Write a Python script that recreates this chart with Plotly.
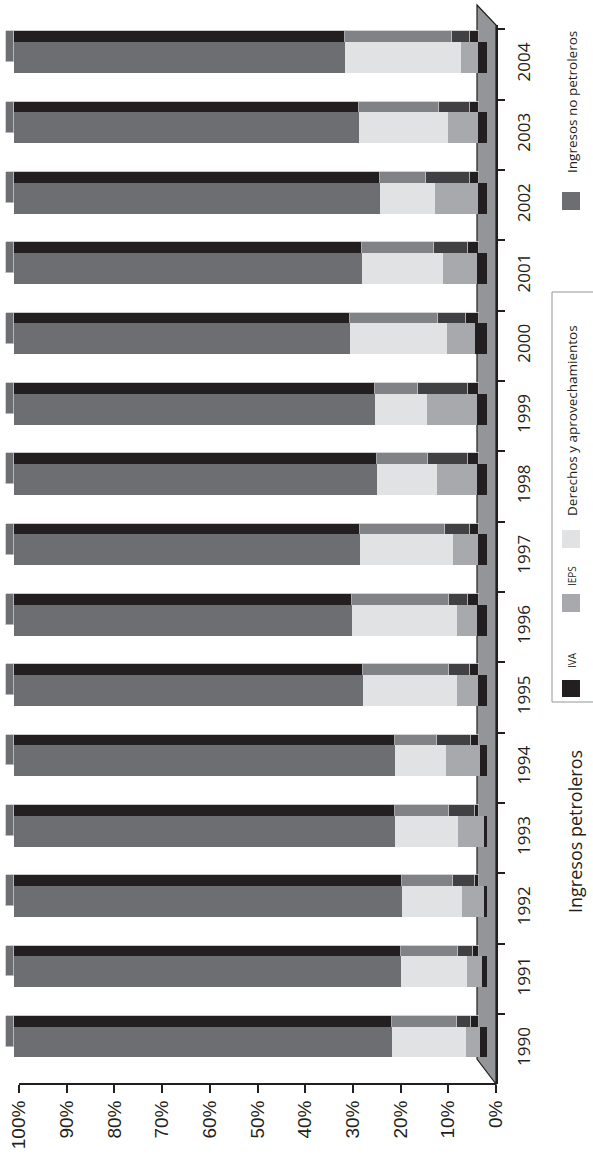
import plotly.graph_objects as go

# ---------------- data (shares of total revenue, %) ----------------
years = [1990, 1991, 1992, 1993, 1994, 1995, 1996, 1997, 1998, 1999, 2000, 2001, 2002, 2003, 2004]
iva = [1.5, 1.1, 0.7, 0.7, 1.5, 1.8, 2.2, 1.8, 2.2, 2.2, 2.6, 2.2, 1.8, 1.8, 1.8]
ieps = [3.0, 3.2, 4.6, 5.5, 7.2, 4.5, 4.1, 5.3, 8.4, 10.5, 5.9, 7.2, 9.2, 6.5, 3.7]
derechos = [15.6, 13.8, 12.7, 13.3, 10.7, 19.9, 22.2, 19.8, 12.7, 11.0, 20.4, 17.1, 11.6, 18.7, 24.6]
no_petroleros = [79.9, 81.9, 82.0, 80.5, 80.6, 73.8, 71.5, 73.1, 76.7, 76.3, 71.1, 73.5, 77.4, 73.0, 69.9]
pct_ticks = [0, 10, 20, 30, 40, 50, 60, 70, 80, 90, 100]
pct_labels = ["0%", "10%", "20%", "30%", "40%", "50%", "60%", "70%", "80%", "90%", "100%"]
year_labels = [str(y) for y in years]

series_names = ["IVA", "IEPS", "Derechos y aprovechamientos", "Ingresos no petroleros"]
series_values = [iva, ieps, derechos, no_petroleros]
front_colors = ["#231f20", "#a7a9ac", "#e1e2e3", "#6d6e71"]
top_colors = ["#231f20", "#414042", "#808285", "#231f20"]
side_color = "#6d6e71"
edge_color = "#c7c8ca"

# ---------------- geometry (pixels) ----------------
W, H = 593, 1155
L, R, T, B = 0, 97, 25, 71
PW, PH = W - L - R, H - T - B
px_top, px_bot = T, H - B            # 25 .. 1084
SLOT = 70.32                         # px per year
SX = 4.73                            # px per % (bars)
SX_T = 4.77                          # px per % (tick axis)
BAR_W = 0.44
DX, DY = 8.5, 10.7                   # 3-D depth offset of the bars


def xr(x_zero, scale):
    return [(x_zero - L) / scale, (x_zero - (L + PW)) / scale]


def yr(y_first, first=1990):
    return [first + (y_first - px_bot) / SLOT, first + (y_first - px_top) / SLOT]


def px2paper(x, y):
    return (x - L) / PW, 1 - (y - T) / PH


fig = go.Figure()

# 1) back faces (shifted left & up): top faces of the petroleum parts, side face of the bar end
back_colors = top_colors[:3] + [side_color]
for name, vals, col in zip(series_names, series_values, back_colors):
    fig.add_trace(go.Bar(
        y=years, x=vals, orientation="h", width=BAR_W, name=name,
        marker=dict(color=col, line=dict(color=edge_color, width=0.8)),
        xaxis="x", yaxis="y", showlegend=False, hoverinfo="skip"))

# 2) top face of the non-oil part (shifted up only)
petro_total = [a + b + c for a, b, c in zip(iva, ieps, derechos)]
fig.add_trace(go.Bar(
    y=years, x=no_petroleros, base=petro_total, orientation="h", width=BAR_W,
    name=series_names[3], marker=dict(color=top_colors[3], line=dict(color=edge_color, width=0.8)),
    xaxis="x2", yaxis="y2", showlegend=False, hoverinfo="skip"))

# 3) front faces
for name, vals, col in zip(series_names, series_values, front_colors):
    fig.add_trace(go.Bar(
        y=years, x=vals, orientation="h", width=BAR_W, name=name,
        marker=dict(color=col, line=dict(width=0)),
        xaxis="x3", yaxis="y3", showlegend=False))

boundaries = [y - 0.5 for y in years] + [years[-1] + 0.5]

fig.update_layout(
    width=W, height=H, margin=dict(l=L, r=R, t=T, b=B),
    paper_bgcolor="white", plot_bgcolor="rgba(0,0,0,0)",
    barmode="stack", bargap=0, showlegend=False,
    font=dict(family="Open Sans", color="#231f20"),
    xaxis=dict(range=xr(487 - DX, SX), visible=False),
    yaxis=dict(range=yr(1042 - DY), visible=False),
    xaxis2=dict(range=xr(487, SX), visible=False, overlaying="x", anchor="y2"),
    yaxis2=dict(range=yr(1042 - DY), visible=False, overlaying="y", anchor="x2"),
    xaxis3=dict(range=xr(487, SX), visible=False, overlaying="x", anchor="y3"),
    yaxis3=dict(range=yr(1042), visible=False, overlaying="y", anchor="x3"),
    xaxis4=dict(range=xr(496, SX_T), overlaying="x", anchor="y4", side="bottom",
                showgrid=False, zeroline=False, showline=False,
                tickmode="array", tickvals=pct_ticks, ticktext=pct_labels,
                ticks="outside", ticklen=8, tickwidth=2, tickcolor="#231f20",
                tickangle=-90, tickfont=dict(family="Liberation Sans", size=19, color="#231f20"),
                automargin=False),
    yaxis4=dict(range=yr(1049), overlaying="y", anchor="x4", side="right",
                showgrid=False, zeroline=False, showline=True, linewidth=2, linecolor="#231f20",
                tickmode="array", tickvals=years, ticktext=year_labels, ticks="",
                minor=dict(tickmode="array", tickvals=boundaries, ticks="outside",
                           ticklen=7, tickwidth=1.5, tickcolor="#231f20", showgrid=False),
                tickangle=-90, ticklabelstandoff=12,
                tickfont=dict(family="Open Sans", size=17, color="#231f20"),
                automargin=False),
)

# floor panel of the 3-D chart
pts = [px2paper(477, 5), px2paper(496, 25), px2paper(496, 1084), px2paper(477, 1059)]
path = "M " + " L ".join(f"{x:.5f},{y:.5f}" for x, y in pts) + " Z"
fig.add_shape(type="path", path=path, xref="paper", yref="paper", layer="below",
              fillcolor="#939598", line=dict(color="#231f20", width=1.2))
# value axis line 0%..100%
fig.add_shape(type="line", xref="x4", yref="paper", x0=pct_ticks[0], x1=pct_ticks[-1], y0=0, y1=0,
              line=dict(color="#231f20", width=2))


def rect(x0, y0, x1, y1, color, line=None):
    a = px2paper(x0, y0)
    b = px2paper(x1, y1)
    fig.add_shape(type="rect", xref="paper", yref="paper", x0=a[0], y0=a[1], x1=b[0], y1=b[1],
                  fillcolor=color, line=line or dict(width=0))


def label(text, x, y, size):
    p = px2paper(x, y)
    fig.add_annotation(text=text, x=p[0], y=p[1], xref="paper", yref="paper", textangle=-90,
                       showarrow=False, xanchor="center", yanchor="middle",
                       font=dict(family="Open Sans", size=size, color="#231f20"))


rect(552, 292, 606, 702, "rgba(0,0,0,0)", dict(color="#939598", width=1))
label("Ingresos petroleros", 575, 832, 18)
rect(562, 680, 580, 697, front_colors[0])
label(series_names[0], 572, 660, 10)
rect(562, 594, 580, 612, front_colors[1])
label(series_names[1], 572, 576, 10)
rect(562, 530, 580, 548, front_colors[2])
label(series_names[2], 572, 421, 13.5)
rect(562, 192, 580, 210, front_colors[3])
label(series_names[3], 572, 102, 13.5)

fig.write_html("out.html", config={"displayModeBar": False},
               post_script="document.body.style.margin='0px';")
